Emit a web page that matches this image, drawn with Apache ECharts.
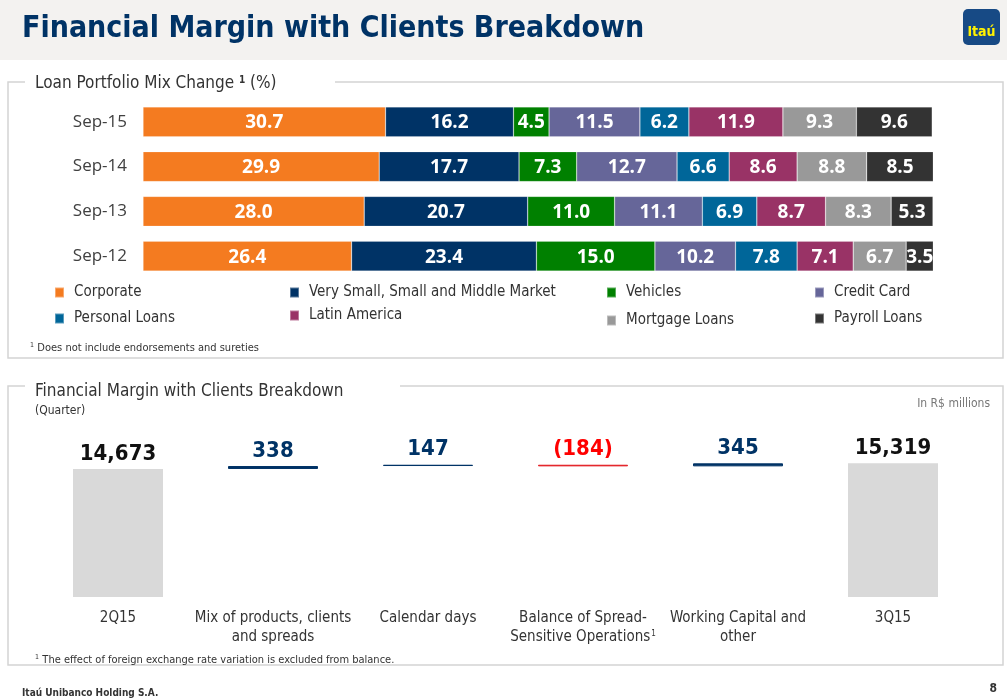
<!DOCTYPE html>
<html>
<head>
  <meta charset="UTF-8">
  <title>Financial Margin with Clients Breakdown</title>
  <script src="https://cdn.jsdelivr.net/npm/echarts@6.0.0/dist/echarts.min.js"></script>
  <style>
    html, body { margin: 0; padding: 0; background: #fff; }
    #main { width: 1007px; height: 699px; }
  </style>
</head>
<body>
  <div id="main"></div>

  <script>
    // --- loan portfolio mix (%) ---
    const years = ['Sep-15', 'Sep-14', 'Sep-13', 'Sep-12'];
    const corporate  = [30.7, 29.9, 28.0, 26.4];
    const smallMid   = [16.2, 17.7, 20.7, 23.4];
    const vehicles   = [4.5, 7.3, 11.0, 15.0];
    const creditCard = [11.5, 12.7, 11.1, 10.2];
    const personal   = [6.2, 6.6, 6.9, 7.8];
    const latam      = [11.9, 8.6, 8.7, 7.1];
    const mortgage   = [9.3, 8.8, 8.3, 6.7];
    const payroll    = [9.6, 8.5, 5.3, 3.5];

    // --- financial margin waterfall (R$ millions) ---
    const wfCategories = ['2Q15', 'Mix of products, clients\nand spreads', 'Calendar days',
      'Balance of Spread-\nSensitive Operations', 'Working Capital and\nother', '3Q15'];
    const wfStart = 14673;
    const wfDeltas = [338, 147, -184, 345];
    const wfEnd = 15319;

    const mixSeries = [
      { name: 'Corporate', data: corporate, color: '#F47B20' },
      { name: 'Very Small, Small and Middle Market', data: smallMid, color: '#003366' },
      { name: 'Vehicles', data: vehicles, color: '#008000' },
      { name: 'Credit Card', data: creditCard, color: '#666699' },
      { name: 'Personal Loans', data: personal, color: '#006699' },
      { name: 'Latin America', data: latam, color: '#993366' },
      { name: 'Mortgage Loans', data: mortgage, color: '#999999' },
      { name: 'Payroll Loans', data: payroll, color: '#333333' }
    ];

    // legend spots (marker left, row top) – the slide has them a bit uneven
    const legendSpots = {
      'Corporate': [54, 285], 'Personal Loans': [54, 311],
      'Very Small, Small and Middle Market': [289, 285], 'Latin America': [289, 308],
      'Vehicles': [606, 285], 'Mortgage Loans': [606, 313],
      'Credit Card': [814, 285], 'Payroll Loans': [814, 311]
    };

    // build the waterfall: invisible base + visible piece
    const wfBase = [0];
    const wfValue = [wfStart];
    let running = wfStart;
    wfDeltas.forEach(d => {
      if (d >= 0) { wfBase.push(running); wfValue.push(d); }
      else { wfBase.push(running + d); wfValue.push(-d); }
      running += d;
    });
    wfBase.push(0);
    wfValue.push(wfEnd);

    const fmt = n => n.toLocaleString('en-US');
    const wfItems = wfValue.map((v, i) => {
      const isTotal = i === 0 || i === wfValue.length - 1;
      const delta = isTotal ? null : wfDeltas[i - 1];
      const color = isTotal ? '#D9D9D9' : (delta < 0 ? '#E31E24' : '#003366');
      const labelColor = isTotal ? '#111111' : (delta < 0 ? '#FF0000' : '#003366');
      return {
        value: v,
        itemStyle: { color: color, borderColor: color, borderWidth: isTotal ? 0 : 1 },
        label: {
          color: labelColor,
          distance: isTotal ? 4 : 4,
          formatter: isTotal ? fmt(v) : (delta < 0 ? '(' + fmt(-delta) + ')' : fmt(delta))
        }
      };
    });

    const narrow = '"Liberation Sans Narrow", "DejaVu Sans Condensed", "Open Sans", sans-serif';
    const body = '"Open Sans", "Noto Sans", sans-serif';

    const chart = echarts.init(document.getElementById('main'));

    const option = {
      animation: false,
      backgroundColor: '#ffffff',
      textStyle: { fontFamily: body },
      graphic: [
        { type: 'rect', shape: { x: 0, y: 0, width: 1007, height: 60 }, style: { fill: '#F3F2F0' }, z: -10 },
        { type: 'text', left: 22, top: 14,
          style: { text: 'Financial Margin with Clients Breakdown', fill: '#003366',
            font: 'bold 30px ' + narrow } },
        { type: 'rect', shape: { x: 963, y: 9, width: 37, height: 36, r: 5 }, style: { fill: '#174A85' } },
        { type: 'text', x: 981.5, y: 32, style: { text: 'Itaú', fill: '#FFF200', align: 'center',
            verticalAlign: 'middle', font: 'bold 14px ' + narrow } },

        // box 1
        { type: 'polyline', shape: { points: [[25, 82], [8, 82], [8, 358], [1003, 358], [1003, 82], [335, 82]] },
          style: { stroke: '#D4D4D4', lineWidth: 1.5, fill: null } },
        { type: 'text', left: 35, top: 75,
          style: { text: '{t|Loan Portfolio Mix Change }{s|1}{t| (%)}',
            rich: {
              t: { fontSize: 17, fontFamily: narrow, fill: '#333333' },
              s: { fontSize: 10, fontWeight: 'bold', fontFamily: narrow, fill: '#333333', verticalAlign: 'top', padding: [0, 0, 8, 0] }
            } } },
        { type: 'text', left: 30, top: 342,
          style: { text: '{s|1} {t|Does not include endorsements and sureties}',
            rich: {
              t: { fontSize: 11, fontFamily: narrow, fill: '#333333' },
              s: { fontSize: 7, fontFamily: narrow, fill: '#333333', padding: [0, 0, 6, 0] }
            } } },

        // box 2
        { type: 'polyline', shape: { points: [[25, 386], [8, 386], [8, 665], [1003, 665], [1003, 386], [400, 386]] },
          style: { stroke: '#D4D4D4', lineWidth: 1.5, fill: null } },
        { type: 'text', left: 35, top: 383,
          style: { text: 'Financial Margin with Clients Breakdown', fill: '#333333', font: '17px ' + narrow } },
        { type: 'text', left: 35, top: 405,
          style: { text: '(Quarter)', fill: '#333333', font: '12px ' + narrow } },
        { type: 'text', right: 17, top: 398,
          style: { text: 'In R$ millions', fill: '#777777', font: '12px ' + narrow } },
        { type: 'text', left: 35, top: 654,
          style: { text: '{s|1} {t|The effect of foreign exchange rate variation is excluded from balance.}',
            rich: {
              t: { fontSize: 11, fontFamily: narrow, fill: '#333333' },
              s: { fontSize: 7, fontFamily: narrow, fill: '#333333', padding: [0, 0, 6, 0] }
            } } },

        // footer
        { type: 'text', left: 22, top: 688,
          style: { text: 'Itaú Unibanco Holding S.A.', fill: '#333333', font: 'bold 10px ' + narrow } },
        { type: 'text', right: 10, top: 683,
          style: { text: '8', fill: '#333333', font: 'bold 12px ' + narrow } }
      ],
      legend: mixSeries.map(s => ({
        data: [s.name],
        left: legendSpots[s.name][0],
        top: legendSpots[s.name][1],
        padding: 0,
        orient: 'vertical',
        selectedMode: false,
        icon: 'rect',
        itemWidth: 9,
        itemHeight: 10,
        itemGap: 0,
        textStyle: { fontSize: 15, color: '#333333', fontFamily: narrow, padding: [0, 0, 0, 5] }
      })),
      grid: [
        { left: 143, right: 74, top: 99.5, height: 179 },
        { left: 40.5, right: 36.5, top: 457.4, height: 139.6 }
      ],
      xAxis: [
        { gridIndex: 0, type: 'value', min: 0, max: 100, show: false },
        {
          gridIndex: 1, type: 'category', data: wfCategories,
          axisLine: { show: false }, axisTick: { show: false },
          axisLabel: {
            interval: 0, margin: 12, fontSize: 15, lineHeight: 19, color: '#333333', fontFamily: narrow,
            formatter: v => v.indexOf('Sensitive') >= 0
              ? '{a|Balance of Spread-}\n{a|Sensitive Operations}{s|1}' : '{a|' + v.split('\n').join('}\n{a|') + '}',
            rich: {
              a: { fontSize: 15, lineHeight: 19, color: '#333333', fontFamily: narrow },
              s: { fontSize: 8, lineHeight: 19, color: '#333333', fontFamily: narrow, padding: [0, 0, 8, 1] }
            }
          }
        }
      ],
      yAxis: [
        {
          gridIndex: 0, type: 'category', data: years, inverse: true,
          axisLine: { show: false }, axisTick: { show: false },
          axisLabel: { fontSize: 17, color: '#404040', margin: 16, fontFamily: body }
        },
        { gridIndex: 1, type: 'value', min: 0, max: 16000, show: false, splitLine: { show: false } }
      ],
      series: mixSeries.map(s => ({
        name: s.name,
        type: 'bar',
        stack: 'mix',
        xAxisIndex: 0,
        yAxisIndex: 0,
        barWidth: 30,
        data: s.data,
        itemStyle: { color: s.color, borderColor: 'rgba(255,255,255,0.35)', borderWidth: 0.6 },
        label: {
          show: true, position: 'inside', color: '#ffffff', fontSize: 19, fontWeight: 'bold',
          fontFamily: body, offset: [0, 1], formatter: p => p.value.toFixed(1)
        }
      })).concat([
        {
          name: 'base', type: 'bar', stack: 'wf', xAxisIndex: 1, yAxisIndex: 1,
          barWidth: 90, data: wfBase, silent: true,
          itemStyle: { color: 'transparent' }, label: { show: false }
        },
        {
          name: 'margin', type: 'bar', stack: 'wf', xAxisIndex: 1, yAxisIndex: 1,
          barWidth: 90, data: wfItems,
          label: { show: true, position: 'top', fontSize: 22, fontWeight: 'bold', fontFamily: narrow }
        }
      ])
    };

    chart.setOption(option);
  </script>
</body>
</html>
